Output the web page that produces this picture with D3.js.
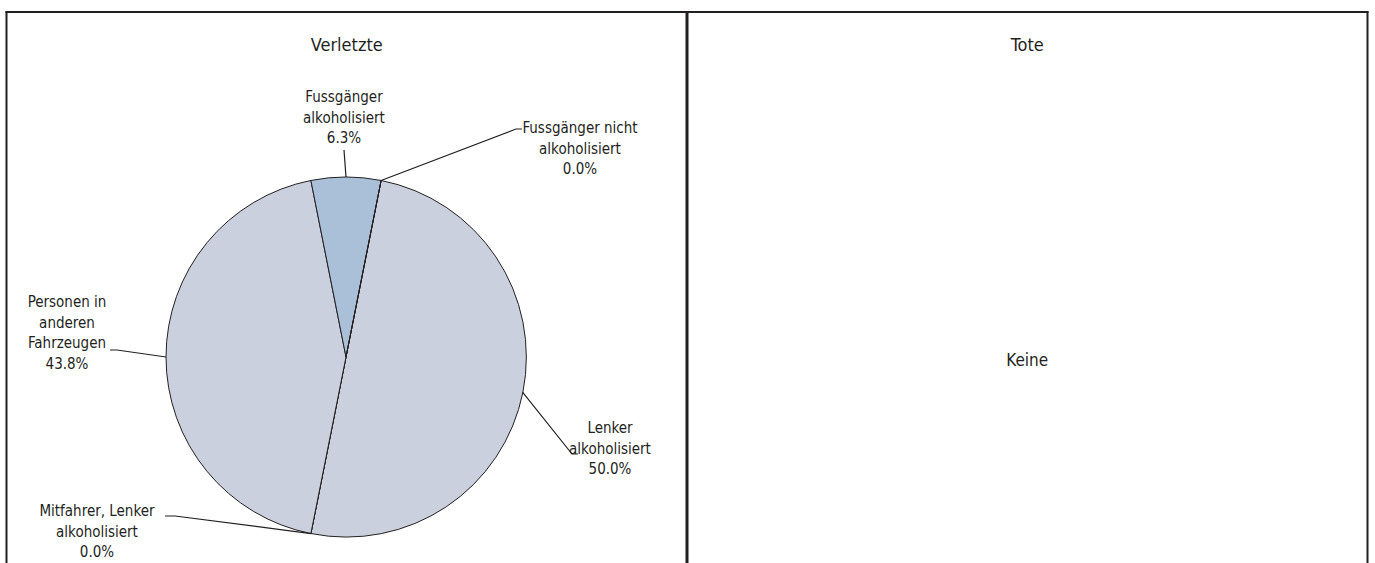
<!DOCTYPE html>
<html>
<head>
<meta charset="utf-8">
<script src="https://cdn.jsdelivr.net/npm/d3@7"></script>
<style>
  html, body { margin: 0; padding: 0; background: #fff; }
  svg { display: block; }
  text { font-family: "Liberation Sans Narrow", "DejaVu Sans Condensed", "Noto Sans", sans-serif; fill: #231f20; }
</style>
</head>
<body>
<svg id="chart" width="1375" height="563"></svg>
<script>
// ---- data ----
const panelTitles = ["Verletzte", "Tote"];
const categories = [
  "Lenker alkoholisiert",
  "Mitfahrer, Lenker alkoholisiert",
  "Personen in anderen Fahrzeugen",
  "Fussgänger alkoholisiert",
  "Fussgänger nicht alkoholisiert"
];
const injuredValues = [8, 0, 7, 1, 0];   // counts -> 50.0%, 0.0%, 43.8%, 6.3%, 0.0%
const labelLines = [
  ["Lenker", "alkoholisiert"],
  ["Mitfahrer, Lenker", "alkoholisiert"],
  ["Personen in", "anderen", "Fahrzeugen"],
  ["Fussgänger", "alkoholisiert"],
  ["Fussgänger nicht", "alkoholisiert"]
];
const deadText = "Keine";

// ---- layout / style ----
const W = 1375, H = 563;
const ink = "#231f20";
const sliceColors = ["#cbd0df", "#cbd0df", "#cbd0df", "#aabfd8", "#aabfd8"];
const pieCenter = {x: 346, y: 357};
const radius = 180;
const rotation = 11.25 * Math.PI / 180;
// label block centre x, first-line baseline y, and leader elbow (relative layout)
const labelLayout = [
  {x: 610, y: 433, elbow: [[572, 454], [578, 454]]},
  {x: 97,  y: 516, elbow: [[175, 516], [165, 516]]},
  {x: 67,  y: 307, elbow: [[117, 350], [110, 350]]},
  {x: 344, y: 102, elbow: [[344, 150]]},
  {x: 580, y: 133, elbow: [[516, 129], [522, 129]]}
];
const lineH = 20.5;

const svg = d3.select("#chart");

// panel frame
const frame = svg.append("g").attr("stroke", ink).attr("fill", "none");
frame.append("line").attr("x1", 5.5).attr("x2", 1368.5).attr("y1", 12).attr("y2", 12).attr("stroke-width", 2);
frame.append("line").attr("x1", 6.5).attr("x2", 6.5).attr("y1", 11).attr("y2", H).attr("stroke-width", 2);
frame.append("line").attr("x1", 687).attr("x2", 687).attr("y1", 11).attr("y2", H).attr("stroke-width", 3);
frame.append("line").attr("x1", 1367.5).attr("x2", 1367.5).attr("y1", 11).attr("y2", H).attr("stroke-width", 2);

// titles
const panelX = d3.scaleBand().domain(panelTitles).range([6.5, 1367.5]);
svg.selectAll("text.title").data(panelTitles).join("text")
  .attr("class", "title")
  .attr("x", d => panelX(d) + panelX.bandwidth() / 2)
  .attr("y", 51)
  .attr("text-anchor", "middle")
  .attr("font-size", 18)
  .text(d => d);

// right panel: no deaths
svg.append("text")
  .attr("x", panelX("Tote") + panelX.bandwidth() / 2)
  .attr("y", 366)
  .attr("text-anchor", "middle")
  .attr("font-size", 17)
  .text(deadText);

// pie
const total = d3.sum(injuredValues);
const pct = d3.format(".1f");
const pie = d3.pie().sort(null).value(d => d.v)
  .startAngle(rotation).endAngle(rotation + 2 * Math.PI);
const arcs = pie(categories.map((c, i) => ({c, v: injuredValues[i], i})));
const arc = d3.arc().innerRadius(0).outerRadius(radius);

const g = svg.append("g").attr("transform", `translate(${pieCenter.x},${pieCenter.y})`);
g.selectAll("path").data(arcs).join("path")
  .attr("d", arc)
  .attr("fill", d => sliceColors[d.data.i])
  .attr("stroke", ink)
  .attr("stroke-width", 1);

// leader lines + labels
arcs.forEach(d => {
  const L = labelLayout[d.data.i];
  const a = (d.startAngle + d.endAngle) / 2;
  const px = pieCenter.x + radius * Math.sin(a);
  const py = pieCenter.y - radius * Math.cos(a);
  const pts = [[px, py], ...L.elbow];
  svg.append("path")
    .attr("d", d3.line()(pts))
    .attr("fill", "none")
    .attr("stroke", ink)
    .attr("stroke-width", 1.2);
  const lines = labelLines[d.data.i].concat([pct(d.data.v / total * 100) + "%"]);
  const t = svg.append("text")
    .attr("text-anchor", "middle")
    .attr("font-size", 15);
  lines.forEach((ln, k) => {
    t.append("tspan").attr("x", L.x).attr("y", L.y + k * lineH).text(ln);
  });
});
</script>
</body>
</html>
